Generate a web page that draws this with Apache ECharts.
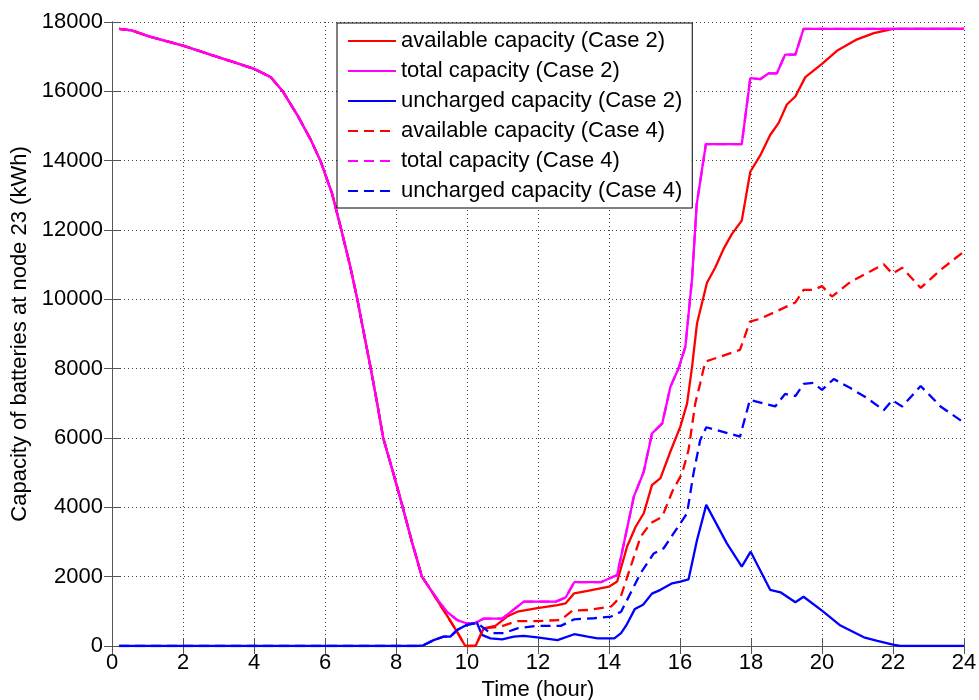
<!DOCTYPE html>
<html>
<head>
<meta charset="utf-8">
<script src="https://cdn.jsdelivr.net/npm/echarts@6/dist/echarts.min.js"></script>
<style>
  html, body { margin: 0; padding: 0; background: #fff; }
  #chart { width: 979px; height: 700px; }
</style>
</head>
<body>
<div id="chart"></div>
<script>
// [hour, kWh] pairs
// discharge part shared by total and available capacity (both cases)
const dischargeCurve = [
  [0.2, 17800], [0.55, 17760], [1.06, 17580], [2.0, 17320], [2.77, 17060],
  [3.43, 16840], [4.0, 16650], [4.47, 16410], [4.81, 16000], [5.23, 15300],
  [5.6, 14600], [5.87, 14000], [6.2, 13050], [6.46, 12000], [6.7, 11000],
  [6.91, 10000], [7.1, 9000], [7.29, 8000], [7.47, 7000], [7.64, 6000],
  [7.92, 5000], [8.19, 4000], [8.45, 3000], [8.73, 2000], [8.96, 1650]
];

const totalCase2Tail = [
  [9.2, 1300], [9.43, 990], [9.72, 750], [10.0, 650], [10.24, 670],
  [10.47, 790], [10.99, 790], [11.6, 1280], [12.5, 1280], [12.78, 1400],
  [13.02, 1840], [13.77, 1840], [14.23, 2050], [14.7, 4310], [14.98, 5030],
  [15.21, 6130], [15.5, 6420], [15.73, 7480], [15.96, 8010], [16.15, 8630],
  [16.34, 10600], [16.47, 12740], [16.73, 14480], [17.74, 14480], [17.98, 16380],
  [18.26, 16350], [18.5, 16520], [18.73, 16520], [18.96, 17060], [19.25, 17060],
  [19.48, 17800], [24, 17800]
];

const availCase2Tail = [
  [9.1, 1420], [9.43, 890], [9.72, 410], [9.95, 0], [10.24, 0], [10.47, 510],
  [10.8, 580], [11.13, 850], [11.42, 990], [11.98, 1090], [12.55, 1180],
  [12.78, 1230], [13.02, 1520], [13.4, 1590], [14.0, 1710], [14.23, 1860],
  [14.51, 2870], [14.75, 3440], [14.98, 3830], [15.21, 4640], [15.45, 4840],
  [15.73, 5610], [16.01, 6330], [16.2, 7000], [16.34, 8060], [16.48, 9310],
  [16.76, 10480], [16.99, 10910], [17.22, 11440], [17.46, 11880], [17.74, 12270],
  [17.98, 13680], [18.26, 14150], [18.54, 14740], [18.78, 15090], [19.01, 15620],
  [19.25, 15850], [19.53, 16410], [20.0, 16790], [20.42, 17170], [20.99, 17500],
  [21.46, 17680], [22.0, 17800], [24, 17800]
];

const unchargedCase2 = [
  [0.2, 0], [8.6, 0], [8.77, 20], [9.06, 170], [9.34, 270], [9.53, 270],
  [9.72, 460], [10.0, 610], [10.28, 670], [10.42, 320], [10.66, 220],
  [10.99, 190], [11.32, 270], [11.6, 290], [11.98, 250], [12.55, 170],
  [13.02, 340], [13.4, 270], [13.68, 220], [14.15, 220], [14.34, 370],
  [14.5, 620], [14.73, 1070], [14.96, 1190], [15.21, 1510], [15.45, 1620],
  [15.78, 1810], [16.01, 1860], [16.24, 1920], [16.48, 3060], [16.74, 4070],
  [17.32, 2960], [17.74, 2290], [17.99, 2720], [18.54, 1620], [18.83, 1550],
  [19.25, 1260], [19.48, 1420], [20.0, 1020], [20.52, 590], [21.18, 250],
  [21.56, 150], [22.0, 40], [22.2, 0], [24, 0]
];

const availCase4Tail = [
  [10.94, 560], [11.42, 720], [11.98, 720], [12.64, 750], [12.97, 1020],
  [13.44, 1040], [14.06, 1140], [14.33, 1420], [14.61, 2290], [14.89, 3150],
  [15.17, 3540], [15.5, 3730], [15.78, 4450], [16.06, 4980], [16.24, 5650],
  [16.43, 7000], [16.57, 7580], [16.71, 8200], [16.85, 8250], [17.69, 8540],
  [17.97, 9360], [18.26, 9440], [18.73, 9660], [19.25, 9910], [19.48, 10270],
  [19.76, 10270], [20.0, 10380], [20.28, 10080], [20.8, 10500], [21.27, 10760],
  [21.74, 11010], [21.98, 10740], [22.26, 10910], [22.78, 10330], [23.34, 10850],
  [24, 11380]
];

const unchargedCase4Tail = [
  [10.66, 370], [11.04, 370], [11.42, 510], [11.98, 580], [12.64, 580],
  [13.02, 770], [13.58, 800], [14.06, 850], [14.34, 990], [14.51, 1330],
  [14.89, 2100], [15.26, 2670], [15.54, 2820], [15.82, 3250], [16.2, 3830],
  [16.38, 4980], [16.57, 5940], [16.74, 6310], [17.69, 6040], [17.97, 7100],
  [18.45, 6970], [18.68, 6910], [18.96, 7270], [19.25, 7210], [19.48, 7560],
  [19.76, 7590], [20.0, 7390], [20.33, 7700], [20.8, 7440], [21.27, 7150],
  [21.74, 6800], [21.98, 7090], [22.26, 6910], [22.78, 7500], [23.34, 6910],
  [24, 6440]
];

const xTicks = { min: 0, max: 24, interval: 2 };
const yTicks = { min: 0, max: 18000, interval: 2000 };

const totalCase2 = dischargeCurve.concat(totalCase2Tail);
const availCase2 = dischargeCurve.concat(availCase2Tail);
const totalCase4 = totalCase2;
// case 4 runs on top of case 2 until about 10.5 h
const availCase4 = availCase2.filter(p => p[0] <= 10.47).concat(availCase4Tail);
const unchargedCase4 = unchargedCase2.filter(p => p[0] <= 10.28).concat(unchargedCase4Tail);

const FONT = 'Liberation Sans, Arial, Helvetica, sans-serif';
const RED = '#ff0000', MAGENTA = '#ff00ff', BLUE = '#0000ff';

function lineSeries(name, data, color, dashed) {
  return {
    name: name,
    type: 'line',
    data: data,
    symbol: 'none',
    showSymbol: false,
    animation: false,
    color: color,
    lineStyle: { color: color, width: 2.3, type: dashed ? [10, 6] : 'solid' }
  };
}

const chart = echarts.init(document.getElementById('chart'));

const baseAxis = {
  axisLine: { show: true, lineStyle: { color: '#555', width: 1 } },
  axisTick: { show: true, inside: true, length: 8, lineStyle: { color: '#555' } },
  splitLine: { show: false },
  axisLabel: { show: false }
};

chart.setOption({
  animation: false,
  textStyle: { fontFamily: FONT },
  grid: { left: 112, right: 15, top: 22, bottom: 54, outerBoundsMode: 'none', containLabel: false },
  legend: {
    left: 337,
    top: 23,
    orient: 'vertical',
    backgroundColor: '#fff',
    borderColor: '#000',
    borderWidth: 1,
    borderRadius: 0,
    padding: [7, 10, 6, 10],
    itemWidth: 48,
    itemHeight: 14,
    itemGap: 8,
    itemStyle: { opacity: 0 },
    lineStyle: { width: 2 },
    textStyle: { fontSize: 22, color: '#000', fontFamily: FONT },
    data: [
      'available capacity (Case 2)',
      'total capacity (Case 2)',
      'uncharged capacity (Case 2)',
      'available capacity (Case 4)',
      'total capacity (Case 4)',
      'uncharged capacity (Case 4)'
    ]
  },
  xAxis: [
    {
      type: 'value',
      min: xTicks.min, max: xTicks.max, interval: xTicks.interval,
      name: 'Time (hour)',
      nameLocation: 'middle',
      nameGap: 30,
      nameTextStyle: { fontSize: 22, color: '#000', fontFamily: FONT },
      axisLine: { show: true, onZero: false, lineStyle: { color: '#555', width: 1 } },
      axisTick: { show: true, inside: true, length: 8, lineStyle: { color: '#555' } },
      axisLabel: { fontSize: 22, color: '#000', margin: 6, fontFamily: FONT },
      splitLine: { show: true, lineStyle: { color: '#444', width: 1, type: [1, 3] } }
    },
    Object.assign({ type: 'value', position: 'top', min: xTicks.min, max: xTicks.max, interval: xTicks.interval }, baseAxis)
  ],
  yAxis: [
    {
      type: 'value',
      min: yTicks.min, max: yTicks.max, interval: yTicks.interval,
      name: 'Capacity of batteries at node 23 (kWh)',
      nameLocation: 'middle',
      nameGap: 77,
      nameTextStyle: { fontSize: 22, color: '#000', fontFamily: FONT },
      axisLine: { show: true, onZero: false, lineStyle: { color: '#555', width: 1 } },
      axisTick: { show: true, inside: true, length: 8, lineStyle: { color: '#555' } },
      axisLabel: { fontSize: 22, color: '#000', margin: 9, fontFamily: FONT, formatter: v => String(v) },
      splitLine: { show: true, lineStyle: { color: '#444', width: 1, type: [1, 3] } }
    },
    Object.assign({ type: 'value', position: 'right', min: yTicks.min, max: yTicks.max, interval: yTicks.interval }, baseAxis)
  ],
  series: [
    lineSeries('available capacity (Case 2)', availCase2, RED, false),
    lineSeries('total capacity (Case 2)', totalCase2, MAGENTA, false),
    lineSeries('uncharged capacity (Case 2)', unchargedCase2, BLUE, false),
    lineSeries('available capacity (Case 4)', availCase4, RED, true),
    lineSeries('total capacity (Case 4)', totalCase4, MAGENTA, true),
    lineSeries('uncharged capacity (Case 4)', unchargedCase4, BLUE, true)
  ]
});
</script>
</body>
</html>
